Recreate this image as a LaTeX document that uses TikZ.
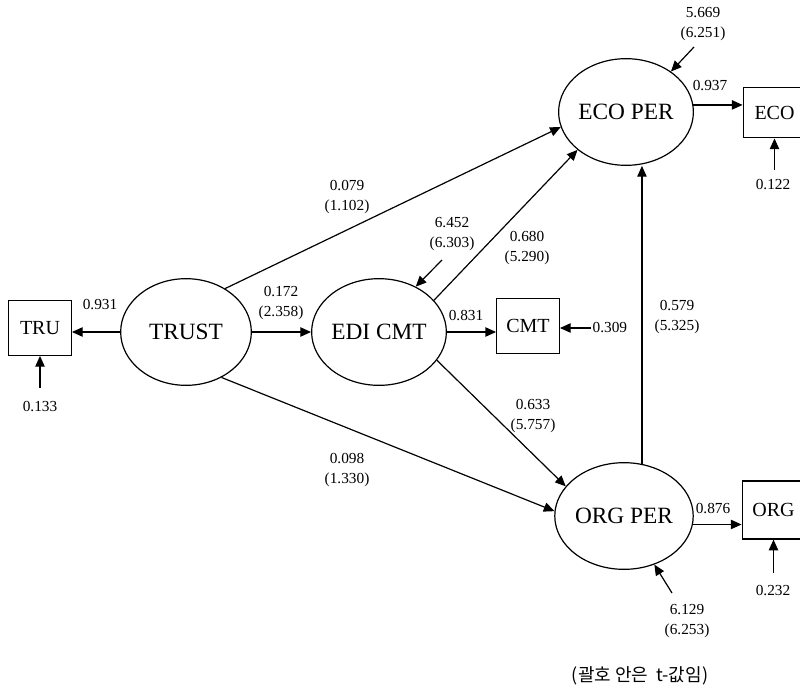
\documentclass[tikz,border=0pt]{standalone}
\usepackage{fontspec}
\setmainfont{Liberation Serif}
\newfontfamily\krfont{Noto Sans CJK KR}
\usetikzlibrary{shapes.geometric,arrows.meta}

\begin{document}
\begin{tikzpicture}[x=0.75pt,y=0.75pt,yscale=-1,xscale=1,
  latent/.style={draw, ellipse, line width=0.9pt, minimum width=98pt, minimum height=80pt, inner sep=0pt, font=\fontsize{17.5}{20}\selectfont},
  manifest/.style={draw, rectangle, line width=0.9pt, minimum width=47pt, minimum height=41pt, inner sep=0pt, font=\fontsize{15}{18}\selectfont},
  coef/.style={inner sep=1pt, align=center, font=\fontsize{11.5}{14.5}\selectfont},
  effect/.style={line width=0.9pt, -{Triangle[length=8pt,width=7pt]}}]

\clip (0,0) rectangle (800,697);

% constructs
\node[latent] (trust) at (186,332) {TRUST};
\node[latent] (edicmt) at (379,332) {EDI CMT};
\node[latent] (ecoper) at (626,112) {ECO PER};
\node[latent] (orgper) at (624,516) {ORG PER};

% indicators
\node[manifest] (tru) at (40,328) {TRU};
\node[manifest] (cmt) at (528,326) {CMT};
\node[manifest, minimum height=38pt] (eco) at (774.5,112.5) {ECO};
\node[manifest, minimum height=43.5pt] (org) at (773.5,510) {ORG};

% free ends of the error arrows
\coordinate (e-tru) at (40,388);
\coordinate (e-cmt) at (591,328);
\coordinate (e-eco) at (774.5,170);
\coordinate (e-org) at (773.5,573);
\coordinate (e-edicmt) at (442,260);
\coordinate (e-ecoper) at (694,47);
\coordinate (e-orgper) at (672,593);

% paths
\draw[effect] (trust.west) -- (trust.west -| tru.east);
\draw[effect] (trust.east) -- (edicmt.west);
\draw[effect] (trust.48) -- (ecoper.193);
\draw[effect] (trust.308) -- (orgper.176);
\draw[effect] (edicmt.30) -- (ecoper.218);
\draw[effect] (edicmt.334) -- (orgper.153);
\draw[effect] (edicmt.east) -- (edicmt.east -| cmt.west);
\draw[effect] (orgper.71) -- (orgper.71 |- ecoper.south);
\draw[effect] (ecoper.6) -- (ecoper.6 -| eco.west);
\draw[effect] (orgper.-7) -- (orgper.-7 -| org.west);

\draw[effect] (e-tru) -- (tru.south);
\draw[effect] (e-cmt) -- (e-cmt -| cmt.east);
\draw[effect] (e-eco) -- (eco.south);
\draw[effect] (e-org) -- (org.south);
\draw[effect] (e-edicmt) -- (edicmt.51);
\draw[effect] (e-ecoper) -- (ecoper.42);
\draw[effect] (e-orgper) -- (orgper.302);

% coefficients
\node[coef] (c-tru) at (100,305) {0.931};
\node[coef] (c-edicmt) at (281,303) {0.172\\(2.358)};
\node[coef] (c-trust-eco) at (347,197) {0.079\\(1.102)};
\node[coef] (c-trust-org) at (347,470) {0.098\\(1.330)};
\node[coef] (c-edi-eco) at (527,248) {0.680\\(5.290)};
\node[coef] (c-edi-org) at (533,416) {0.633\\(5.757)};
\node[coef] (c-cmt) at (466,316) {0.831};
\node[coef] (c-org-eco) at (677,317) {0.579\\(5.325)};
\node[coef] (c-eco) at (710,86) {0.937};
\node[coef] (c-org) at (713,509) {0.876};

\node[coef] (r-tru) at (40,407) {0.133};
\node[coef, anchor=west] (r-cmt) at (591,328) {0.309};
\node[coef] (r-eco) at (773,185) {0.122};
\node[coef] (r-org) at (773,590) {0.232};
\node[coef] (r-edicmt) at (452,234) {6.452\\(6.303)};
\node[coef] (r-ecoper) at (703,24) {5.669\\(6.251)};
\node[coef] (r-orgper) at (687,621) {6.129\\(6.253)};

\node[font=\krfont\fontsize{13.5}{16}\selectfont] (note) at (640,676) {(괄호 안은~~t-값임)};

\end{tikzpicture}
\end{document}
